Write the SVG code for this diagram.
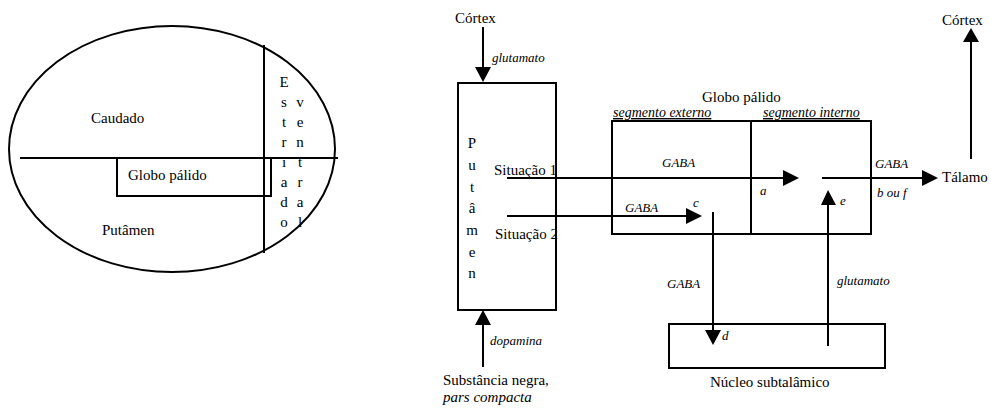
<svg xmlns="http://www.w3.org/2000/svg" width="991" height="408" viewBox="0 0 991 408" font-family="'Liberation Serif', 'Times New Roman', 'DejaVu Serif', serif">
<style>
text{font-family:"Liberation Serif","Times New Roman","DejaVu Serif",serif;fill:#000}
.t{font-size:15px}
.i{font-size:13px;font-style:italic}
.s{font-size:14px;font-style:italic;text-decoration:underline}
.ln{stroke:#000;stroke-width:2;fill:none}
.bx{stroke:#000;stroke-width:2;fill:#fff}
.ah{fill:#000}
</style>
<g id="left-panel">
<ellipse cx="172" cy="149" rx="163" ry="123" class="ln"/>
<line x1="20" y1="158" x2="338" y2="158" class="ln"/>
<line x1="264" y1="45" x2="264" y2="253" class="ln"/>
<rect x="117" y="158" width="154" height="38" class="ln"/>
<text class="t" x="91" y="123">Caudado</text>
<text class="t" x="128" y="180">Globo pálido</text>
<text class="t" x="102" y="235">Putâmen</text>
<g class="t" text-anchor="middle">
<text x="284" y="87">E</text><text x="284" y="107">s</text><text x="284" y="127">t</text><text x="284" y="147">r</text><text x="284" y="167">i</text><text x="284" y="187">a</text><text x="284" y="207">d</text><text x="284" y="227">o</text>
<text x="300" y="107">v</text><text x="300" y="127">e</text><text x="300" y="147">n</text><text x="300" y="167">t</text><text x="300" y="187">r</text><text x="300" y="207">a</text><text x="300" y="227">l</text>
</g>
</g>
<g id="cortex-top"><text class="t" x="455" y="23">Córtex</text></g>
<g id="putamen">
<rect x="458" y="83" width="98" height="227" class="bx"/>
<g class="t" text-anchor="middle">
<text x="472" y="148">P</text><text x="472" y="170">u</text><text x="472" y="192">t</text><text x="472" y="213">â</text><text x="472" y="235">m</text><text x="472" y="257">e</text><text x="472" y="278">n</text>
</g>
<text class="t" x="494" y="175">Situação 1</text>
<text class="t" x="495" y="239">Situação 2</text>
</g>
<g id="globo-palido">
<rect x="612" y="121" width="259" height="113" class="ln"/>
<line x1="751" y1="121" x2="751" y2="234" class="ln"/>
<text class="t" x="702" y="102">Globo pálido</text>
<text class="s" x="613" y="117">segmento externo</text>
<text class="s" x="763" y="117">segmento interno</text>
</g>
<g id="nucleo-subtalamico">
<rect x="669" y="324" width="216" height="44" class="ln"/>
<text class="t" x="710" y="387">Núcleo subtalâmico</text>
</g>
<g id="talamo"><text class="t" x="942" y="182">Tálamo</text></g>
<g id="cortex-right"><text class="t" x="942" y="25">Córtex</text></g>
<g id="substancia-negra">
<text class="t" x="443" y="385">Substância negra,</text>
<text class="t" x="443" y="402" font-style="italic">pars compacta</text>
</g>
<g id="connectors">
<line x1="483" y1="27" x2="483" y2="70" class="ln"/>
<polygon points="475,67 491,67 483,82" class="ah"/>
<line x1="483" y1="367" x2="483" y2="322" class="ln"/>
<polygon points="475,325 491,325 483,310" class="ah"/>
<line x1="507" y1="178" x2="786" y2="178" class="ln"/>
<polygon points="783,170 783,186 799,178" class="ah"/>
<line x1="507" y1="216" x2="690" y2="216" class="ln"/>
<polygon points="686,208 686,224 702,216" class="ah"/>
<line x1="713" y1="212" x2="713" y2="333" class="ln"/>
<polygon points="705,330 721,330 713,345" class="ah"/>
<line x1="828" y1="346" x2="828" y2="202" class="ln"/>
<polygon points="821,205 836,205 828,190" class="ah"/>
<line x1="822" y1="178" x2="925" y2="178" class="ln"/>
<polygon points="922,170 922,186 938,178" class="ah"/>
<line x1="971" y1="159" x2="971" y2="40" class="ln"/>
<polygon points="963,42 979,42 971,28" class="ah"/>
<text class="i" x="492" y="62">glutamato</text>
<text class="i" x="490" y="345">dopamina</text>
<text class="i" x="662" y="167">GABA</text>
<text class="i" x="625" y="212">GABA</text>
<text class="i" x="693" y="207" font-size="14">c</text>
<text class="i" x="760" y="195" font-size="14">a</text>
<text class="i" x="667" y="288">GABA</text>
<text class="i" x="722" y="340" font-size="14">d</text>
<text class="i" x="837" y="285">glutamato</text>
<text class="i" x="840" y="205" font-size="14">e</text>
<text class="i" x="875" y="168">GABA</text>
<text class="i" x="877" y="197" font-size="14">b ou  f</text>
</g>
</svg>
